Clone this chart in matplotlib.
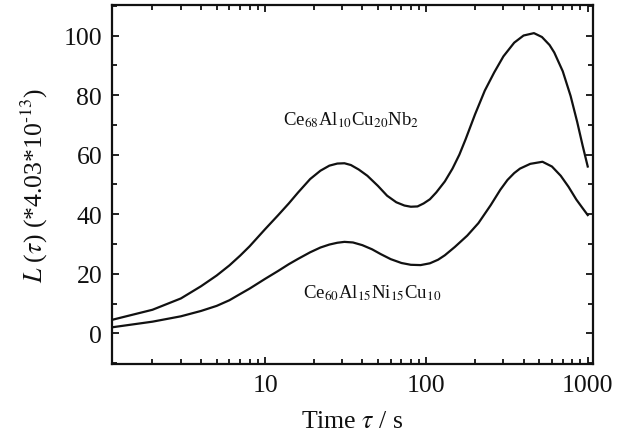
import matplotlib
matplotlib.use("Agg")
import matplotlib.pyplot as plt
from matplotlib.ticker import MultipleLocator, LogLocator, NullFormatter, FixedLocator, FixedFormatter

plt.rcParams['font.family'] = ['Liberation Serif', 'DejaVu Serif']
plt.rcParams['mathtext.fontset'] = 'stix'

# data
tau_a = [1.12, 2, 3, 4, 5, 6, 7, 8, 10, 12, 14, 16, 19, 22, 25, 28, 31, 34, 38, 43,
         50, 57, 65, 73, 80, 88, 96, 105, 115, 130, 145, 160, 175, 200, 230, 263,
         300, 350, 400, 464, 520, 580, 620, 700, 783, 860, 930, 1000]
L_a = [4.5, 7.9, 11.7, 15.8, 19.4, 22.8, 26.1, 29.2, 35.0, 39.6, 43.6, 47.3, 51.8,
       54.6, 56.3, 57.0, 57.1, 56.5, 55.0, 52.9, 49.5, 46.2, 44.0, 42.9, 42.5, 42.6,
       43.6, 45.0, 47.3, 51.0, 55.3, 60.0, 65.2, 73.5, 81.5, 87.6, 93.0, 97.6, 100.0,
       100.8, 99.5, 96.8, 94.3, 88.0, 79.7, 71.0, 63.0, 56.0]

tau_b = [1.12, 2, 3, 4, 5, 6, 7, 8, 10, 12, 14, 16, 19, 22, 25, 28, 31, 35, 40, 46,
         52, 60, 70, 80, 92, 105, 118, 130, 150, 179, 210, 250, 287, 318, 350, 380,
         440, 524, 600, 680, 760, 850, 930, 1000]
L_b = [2.0, 3.9, 5.7, 7.5, 9.2, 11.1, 13.2, 15.0, 18.3, 20.9, 23.2, 25.0, 27.2, 28.8,
       29.8, 30.4, 30.7, 30.5, 29.6, 28.2, 26.6, 24.9, 23.6, 23.0, 22.9, 23.5, 24.7,
       26.2, 29.0, 32.8, 37.0, 43.0, 48.2, 51.5, 53.8, 55.3, 56.9, 57.6, 56.0, 52.9,
       49.2, 44.9, 42.0, 39.7]

label_a = r'Ce$_{68}$Al$_{10}$Cu$_{20}$Nb$_{2}$'
label_b = r'Ce$_{60}$Al$_{15}$Ni$_{15}$Cu$_{10}$'

xticks = [10, 100, 1000]
xtick_labels = ['10', '100', '1000']
yticks = [0, 20, 40, 60, 80, 100]

fig = plt.figure(figsize=(6.25, 4.39), dpi=100)
ax = fig.add_axes([0.179, 0.168, 0.77, 0.818])

ax.plot(tau_a, L_a, color='#111111', lw=1.6)
ax.plot(tau_b, L_b, color='#111111', lw=1.6)

ax.set_xscale('log')
ax.set_xlim(1.12, 1080)
ax.set_ylim(-10.4, 110.2)

ax.xaxis.set_major_locator(FixedLocator(xticks))
ax.xaxis.set_major_formatter(FixedFormatter(xtick_labels))
ax.xaxis.set_minor_locator(LogLocator(base=10, subs=range(2, 10)))
ax.xaxis.set_minor_formatter(NullFormatter())
ax.yaxis.set_major_locator(FixedLocator(yticks))
ax.yaxis.set_minor_locator(MultipleLocator(10))

ax.tick_params(which='both', direction='in', top=True, right=True, width=1.3,
               labelsize=18.5, colors='#111111')
ax.tick_params(which='major', length=5, pad=7)
ax.tick_params(which='minor', length=3.5)
for s in ax.spines.values():
    s.set_linewidth(1.6)
    s.set_color('#111111')

ax.text(34, 72, label_a, fontsize=13.5, ha='center', va='center', color='#111111')
ax.text(46, 13.8, label_b, fontsize=13.5, ha='center', va='center', color='#111111')

ax.set_xlabel(r'Time $\tau$ / s', fontsize=18.5, labelpad=10, color='#111111')
ax.set_ylabel(r'$L$ ($\tau$) (*4.03*10$^{\text{-}13}$)', fontsize=18.5, labelpad=10,
              color='#111111')

fig.savefig('out.png', dpi=100)
